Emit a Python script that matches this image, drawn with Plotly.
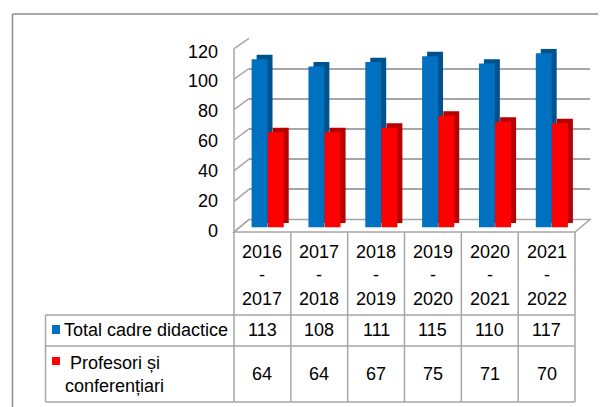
import plotly.graph_objects as go

# data
years = ["2016-2017", "2017-2018", "2018-2019", "2019-2020", "2020-2021", "2021-2022"]
total_cadre = [113, 108, 111, 115, 110, 117]
profesori = [64, 64, 67, 75, 71, 70]
series_names = ["Total cadre didactice", "Profesori și<br>conferențiari"]
y_ticks = [0, 20, 40, 60, 80, 100, 120]

W, H = 606, 407
OFF = 8  # page body margin
FONT = "Liberation Sans Narrow, Arial Narrow, Liberation Sans, Arial, sans-serif"
BLUE, BLUE_DARK = "#0070C0", "#00528C"
RED, RED_DARK = "#FF0000", "#B80000"
GRID = "#A6A6A6"


def px(x):
    return (x - OFF) / W


def py(y):
    return 1 - (y - OFF) / H


cat_labels = [y.replace("-", "<br>-<br>") for y in years]

fig = go.Figure()

# invisible trace so the back wall axes get drawn
fig.add_trace(go.Scatter(x=[0], y=[0], xaxis="x", yaxis="y", mode="markers",
                         marker=dict(opacity=0), hoverinfo="skip", showlegend=False))

# 3d look: darker block behind each front face
depth = 0.088
lift = 3
bw = 0.28
for vals, front, dark, off in [(total_cadre, BLUE, BLUE_DARK, -0.19),
                               (profesori, RED, RED_DARK, 0.095)]:
    fig.add_trace(go.Bar(x=years, y=vals, base=lift, width=bw, offset=off + depth,
                         marker=dict(color=dark, line=dict(width=0)),
                         xaxis="x2", yaxis="y2", showlegend=False, hoverinfo="skip"))
    fig.add_trace(go.Bar(x=years, y=vals, width=bw, offset=off,
                         marker=dict(color=front, line=dict(width=0)),
                         xaxis="x2", yaxis="y2", showlegend=False))

shapes = []
line = dict(color=GRID, width=1.5)

# floor
shapes.append(dict(type="path", xref="paper", yref="paper", layer="below",
                   path=f"M {px(234)},{py(232)} L {px(575)},{py(232)} L {px(590)},{py(219.5)} "
                        f"L {px(249)},{py(219.5)} Z",
                   line=line, fillcolor="white"))
# left wall
shapes.append(dict(type="line", xref="paper", yref="paper", layer="below",
                   x0=px(234), y0=py(232), x1=px(234), y1=py(48.5), line=line))
for v in y_ticks:
    yf = 232 - v * 1.529
    yb = 219.5 - v * 1.51
    shapes.append(dict(type="line", xref="paper", yref="paper", layer="below",
                       x0=px(234), y0=py(yf), x1=px(249), y1=py(yb), line=line))

# data table grid
tline = dict(color=GRID, width=1.5)
col_edges = [234 + i * (575 - 234) / len(years) for i in range(len(years) + 1)]
for xe in col_edges:
    shapes.append(dict(type="line", xref="paper", yref="paper",
                       x0=px(xe), y0=py(232), x1=px(xe), y1=py(402), line=tline))
shapes.append(dict(type="line", xref="paper", yref="paper",
                   x0=px(45.5), y0=py(315), x1=px(45.5), y1=py(402), line=tline))
for yy in [315, 346, 402]:
    shapes.append(dict(type="line", xref="paper", yref="paper",
                       x0=px(45.5), y0=py(yy), x1=px(575), y1=py(yy), line=tline))

# legend keys
for (y0, y1), c in [((325, 334), BLUE), ((357, 365), RED)]:
    shapes.append(dict(type="rect", xref="paper", yref="paper",
                       x0=px(52), x1=px(60), y0=py(y1), y1=py(y0),
                       fillcolor=c, line=dict(width=0)))

# outer frame
frame = dict(color="#8C8C8C", width=1.5)
shapes.append(dict(type="line", xref="paper", yref="paper",
                   x0=px(12.5), y0=py(14), x1=1, y1=py(14), line=frame))
shapes.append(dict(type="line", xref="paper", yref="paper",
                   x0=px(12.5), y0=py(14), x1=px(12.5), y1=0, line=frame))

annotations = []
tfont = dict(family=FONT, size=18, color="black")

# y tick labels (sit a little lower than the front grid)
for v in y_ticks:
    annotations.append(dict(xref="paper", yref="y2", x=px(220), y=v, yshift=-3,
                            text=str(v), showarrow=False, font=tfont,
                            xanchor="right", yanchor="middle"))

for cat, lab, a, b in zip(years, cat_labels, total_cadre, profesori):
    annotations.append(dict(xref="x2", yref="paper", x=cat, y=py(275.5), text=lab,
                            showarrow=False, font=tfont, align="center",
                            xanchor="center", yanchor="middle"))
    annotations.append(dict(xref="x2", yref="paper", x=cat, y=py(330), text=str(a),
                            showarrow=False, font=tfont, xanchor="center", yanchor="middle"))
    annotations.append(dict(xref="x2", yref="paper", x=cat, y=py(374), text=str(b),
                            showarrow=False, font=tfont, xanchor="center", yanchor="middle"))

annotations.append(dict(xref="paper", yref="paper", x=px(62), y=py(330), text=series_names[0],
                        showarrow=False, font=tfont, xanchor="left", yanchor="middle"))
annotations.append(dict(xref="paper", yref="paper", x=px(63), y=py(374),
                        text=" " + series_names[1], showarrow=False, font=tfont,
                        xanchor="left", yanchor="middle", align="left"))

fig.update_layout(
    template="none",
    width=W, height=H,
    margin=dict(l=0, r=0, t=0, b=0, pad=0),
    paper_bgcolor="white", plot_bgcolor="rgba(0,0,0,0)",
    barmode="overlay",
    showlegend=False,
    shapes=shapes,
    annotations=annotations,
    # back wall with gridlines
    xaxis=dict(domain=[px(249), px(590)], range=[0, 1], visible=False,
               automargin=False, fixedrange=True),
    yaxis=dict(domain=[py(219.5), py(38.3)], range=[0, 120], tickvals=y_ticks,
               showgrid=True, gridcolor=GRID, gridwidth=1.5, showticklabels=False,
               zeroline=False, showline=False, automargin=False, fixedrange=True),
    # front plane with the bars
    xaxis2=dict(domain=[px(234), px(575)], range=[-0.5, 5.5], anchor="y2",
                type="category", categoryorder="array", categoryarray=years,
                visible=False, automargin=False, fixedrange=True),
    yaxis2=dict(domain=[py(227.5), py(48.7)], range=[0, 120], anchor="x2",
                tickvals=y_ticks, showgrid=False, zeroline=False, showline=False,
                ticks="", showticklabels=False, automargin=False, fixedrange=True),
)

fig.write_html("out.html")
